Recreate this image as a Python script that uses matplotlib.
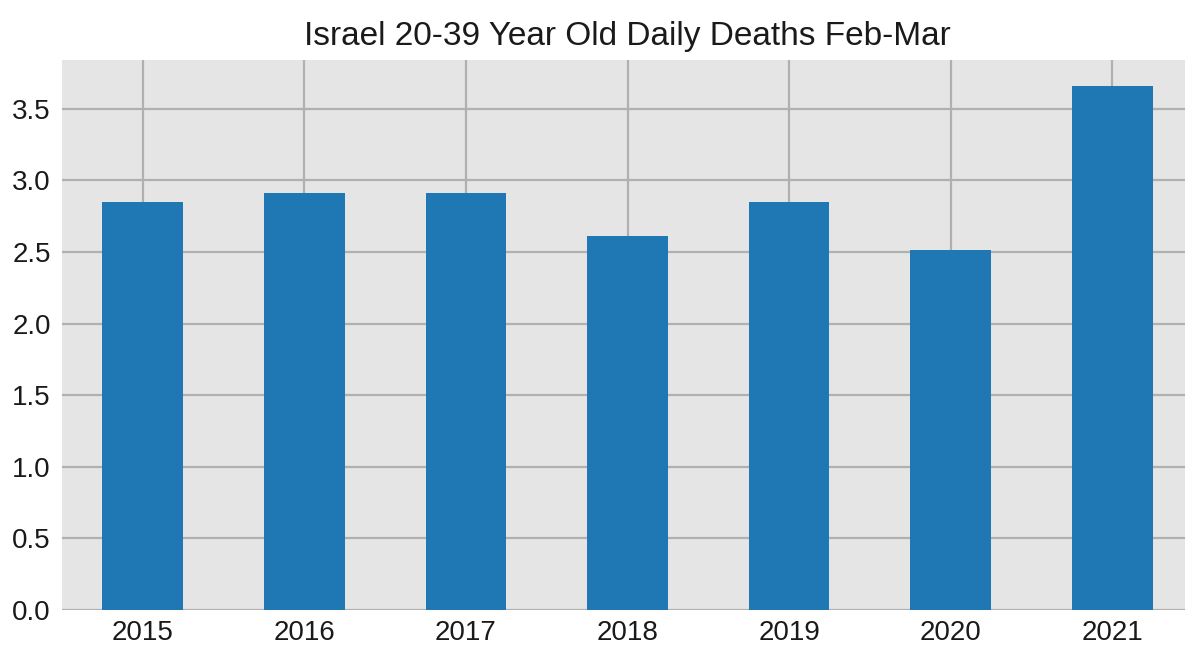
import matplotlib
matplotlib.use("Agg")
import matplotlib.pyplot as plt
import numpy as np

years = ["2015", "2016", "2017", "2018", "2019", "2020", "2021"]
daily_deaths = [2.85, 2.91, 2.91, 2.61, 2.85, 2.51, 3.66]
title = "Israel 20-39 Year Old Daily Deaths Feb-Mar"

plt.rcParams['font.family'] = ['Liberation Sans', 'DejaVu Sans']

fig = plt.figure(figsize=(11.85, 6.47), dpi=100)
W, H = 1185, 647
ax = fig.add_axes([62 / W, 1 - 610 / H, 1131 / W, 550 / H])
ax.set_facecolor('#e5e5e5')
x = np.arange(len(years))
ax.bar(x, daily_deaths, width=0.5, color='#1f77b4', zorder=3)
ax.set_xlim(-0.5, len(years) - 0.5)
ax.set_ylim(0, 3.84)
ticks = np.arange(0, 3.51, 0.5)
ax.set_yticks(ticks)
ax.set_yticklabels([f"{v:.1f}" for v in ticks])
ax.set_xticks(x)
ax.set_xticklabels(years)
ax.grid(True, color='#b0b0b0', linewidth=1.6, zorder=0)
ax.set_axisbelow(True)
for s in ax.spines.values():
    s.set_visible(False)
ax.tick_params(axis='both', length=0, labelsize=20, colors='#1a1a1a', pad=8)
ax.tick_params(axis='x', pad=7)
ax.set_title(title, fontsize=24, color='#1a1a1a', pad=11)
fig.savefig("out.png", dpi=100)
